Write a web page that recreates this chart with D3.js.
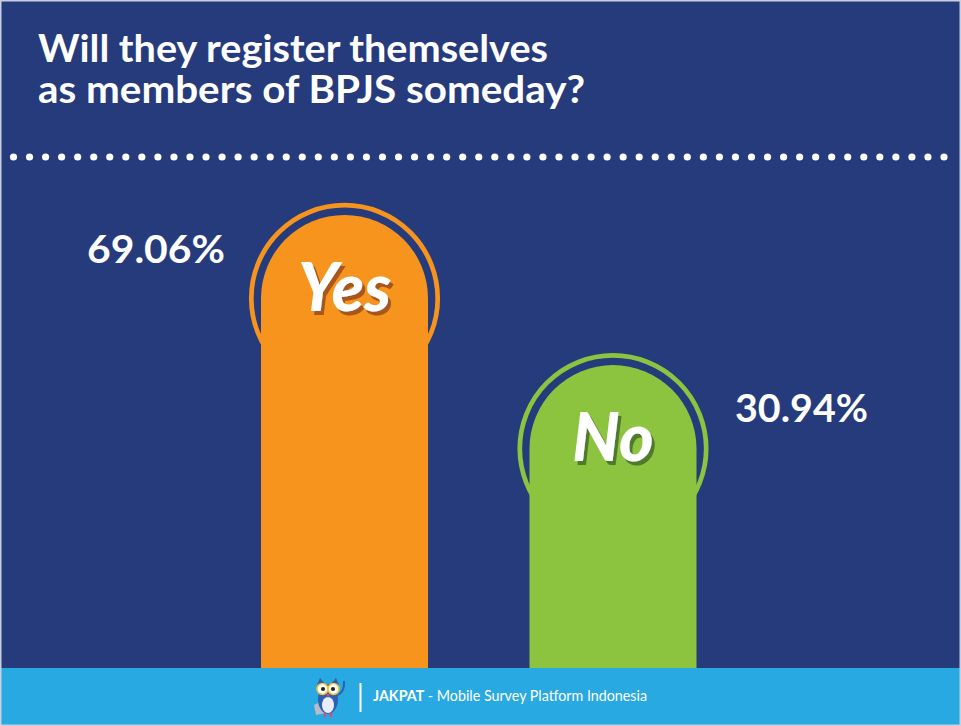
<!DOCTYPE html>
<html>
<head>
<meta charset="utf-8">
<script src="https://cdn.jsdelivr.net/npm/d3@7"></script>
<style>
  body { margin: 0; background: #fff; }
  svg { display: block; }
</style>
</head>
<body>
<div id="chart"></div>
<script>
const width = 961
const height = 726

// data
const categories = ["Yes", "No"]
const values = [69.06, 30.94]
const valueLabels = ["69.06%", "30.94%"]
const titleLines = ["Will they register themselves", "as members of BPJS someday?"]
const footerBrand = "JAKPAT"
const footerText = " - Mobile Survey Platform Indonesia"

const navy = "#263b7c"
const barColors = ["#f7941d", "#8cc43f"]
const shadowColors = ["#a8561c", "#4f7a2c"]
const footerY = 668

const svg = d3.select("#chart").append("svg").attr("width", width).attr("height", height)

// hard shadow for the script words
const defs = svg.append("defs")
defs.selectAll("filter").data(shadowColors)
    .join("filter")
        .attr("id", (d, i) => "shadow" + i)
        .attr("x", "-20%").attr("y", "-20%").attr("width", "140%").attr("height", "140%")
    .append("feDropShadow")
        .attr("dx", 3).attr("dy", 4).attr("stdDeviation", 0)
        .attr("flood-color", d => d).attr("flood-opacity", 1)

svg.append("rect").attr("width", width).attr("height", height).attr("fill", navy)

// title
svg.append("g").selectAll("text").data(titleLines)
    .join("text")
        .attr("x", 38)
        .attr("y", (d, i) => 62 + i * 41)
        .attr("fill", "#fff")
        .attr("font-family", "Lato, sans-serif")
        .attr("font-weight", 700)
        .attr("font-size", 38)
        .attr("textLength", (d, i) => i === 0 ? 510 : 547)
        .attr("lengthAdjust", "spacingAndGlyphs")
        .text(d => d)

// dotted separator
const dots = d3.range(59)
const dotX = d3.scaleLinear().domain([0, 58]).range([13.5, 944])
svg.append("g").selectAll("circle").data(dots)
    .join("circle")
        .attr("cx", d => dotX(d))
        .attr("cy", 157)
        .attr("r", 3.6)
        .attr("fill", "#fff")

// scales
const x = d3.scaleBand().domain(categories).range([261, 696.5]).paddingInner(0.378)
const y = d3.scaleLinear().domain([0, 100]).range([487, 93])

const bw = x.bandwidth()
const r = bw / 2

const bars = svg.append("g").selectAll("g").data(categories)
    .join("g")
        .attr("transform", d => `translate(${x(d) + r},0)`)

// outer ring
bars.append("circle")
    .attr("cy", (d, i) => y(values[i]) + r)
    .attr("r", r + 9.7)
    .attr("fill", "none")
    .attr("stroke", (d, i) => barColors[i])
    .attr("stroke-width", 4.7)

// arched bar
bars.append("path")
    .attr("fill", (d, i) => barColors[i])
    .attr("d", (d, i) => {
        const top = y(values[i])
        return `M${-r},${footerY} L${-r},${top + r} A${r},${r} 0 0 1 ${r},${top + r} L${r},${footerY} Z`
    })

// script labels inside bar
bars.append("text")
    .attr("x", 0)
    .attr("y", (d, i) => y(values[i]) + 96)
    .attr("text-anchor", "middle")
    .attr("fill", "#fff")
    .attr("filter", (d, i) => `url(#shadow${i})`)
    .attr("font-family", "Lato, sans-serif")
    .attr("font-weight", 900)
    .attr("font-style", "italic")
    .attr("font-size", 66)
    .text(d => d)

// percentage labels, first on the left, second on the right
svg.append("g").selectAll("text").data(categories)
    .join("text")
        .attr("x", (d, i) => i === 0 ? x(d) - 174 : x(d) + bw + 38.5)
        .attr("y", (d, i) => y(values[i]) + (i === 0 ? 48 : 57))
        .attr("fill", "#fff")
        .attr("font-family", "Lato, sans-serif")
        .attr("font-weight", 700)
        .attr("font-size", 38)
        .attr("textLength", (d, i) => i === 0 ? 138 : 133)
        .attr("lengthAdjust", "spacingAndGlyphs")
        .text((d, i) => valueLabels[i])

// footer
svg.append("rect").attr("y", footerY).attr("width", width).attr("height", height - footerY).attr("fill", "#29a9e1")

const owl = svg.append("g").attr("transform", "translate(328,697)")
owl.append("path").attr("d", "M-14,8 L-6,4 L-2,16 L-12,18 Z").attr("fill", "#b8bcc4")
owl.append("ellipse").attr("rx", 10).attr("ry", 15).attr("cy", 2).attr("fill", "#2f5fb0")
owl.append("ellipse").attr("rx", 6).attr("ry", 8).attr("cy", 8).attr("fill", "#e8eef8")
owl.append("path").attr("d", "M-11,-12 L-8,-19 L-3,-13 M3,-13 L8,-19 L11,-12").attr("fill", "#2f5fb0")
owl.append("path").attr("d", "M10,-2 Q17,-6 16,-16").attr("stroke", "#2f5fb0").attr("stroke-width", 2).attr("fill", "none")
owl.selectAll(".eye").data([-5.5, 5.5]).join("circle")
    .attr("cx", d => d).attr("cy", -8).attr("r", 5.5)
    .attr("fill", "#fff").attr("stroke", "#f2c230").attr("stroke-width", 1.5)
owl.selectAll(".pupil").data([-5, 5]).join("circle")
    .attr("cx", d => d).attr("cy", -8).attr("r", 2).attr("fill", "#222")
owl.append("path").attr("d", "M-1.5,-3 L1.5,-3 L0,1 Z").attr("fill", "#e8447a")
owl.selectAll(".foot").data([-3, 3]).join("rect")
    .attr("x", d => d - 1.2).attr("y", 16).attr("width", 2.4).attr("height", 4).attr("fill", "#e8447a")

svg.append("line")
    .attr("x1", 360.5).attr("x2", 360.5).attr("y1", 683).attr("y2", 712)
    .attr("stroke", "#fff").attr("stroke-width", 2)

const ft = svg.append("text")
    .attr("x", 373)
    .attr("y", 701)
    .attr("fill", "#fff")
    .attr("font-family", "Lato, sans-serif")
    .attr("font-size", 15)
    .attr("textLength", 274)
    .attr("lengthAdjust", "spacingAndGlyphs")
ft.append("tspan").attr("font-weight", 700).text(footerBrand)
ft.append("tspan").text(footerText)

// frame
svg.append("rect")
    .attr("x", 0.75).attr("y", 0.75).attr("width", width - 1.5).attr("height", height - 1.5)
    .attr("fill", "none").attr("stroke", "#c9cfdf").attr("stroke-width", 1.5)
</script>
</body>
</html>
